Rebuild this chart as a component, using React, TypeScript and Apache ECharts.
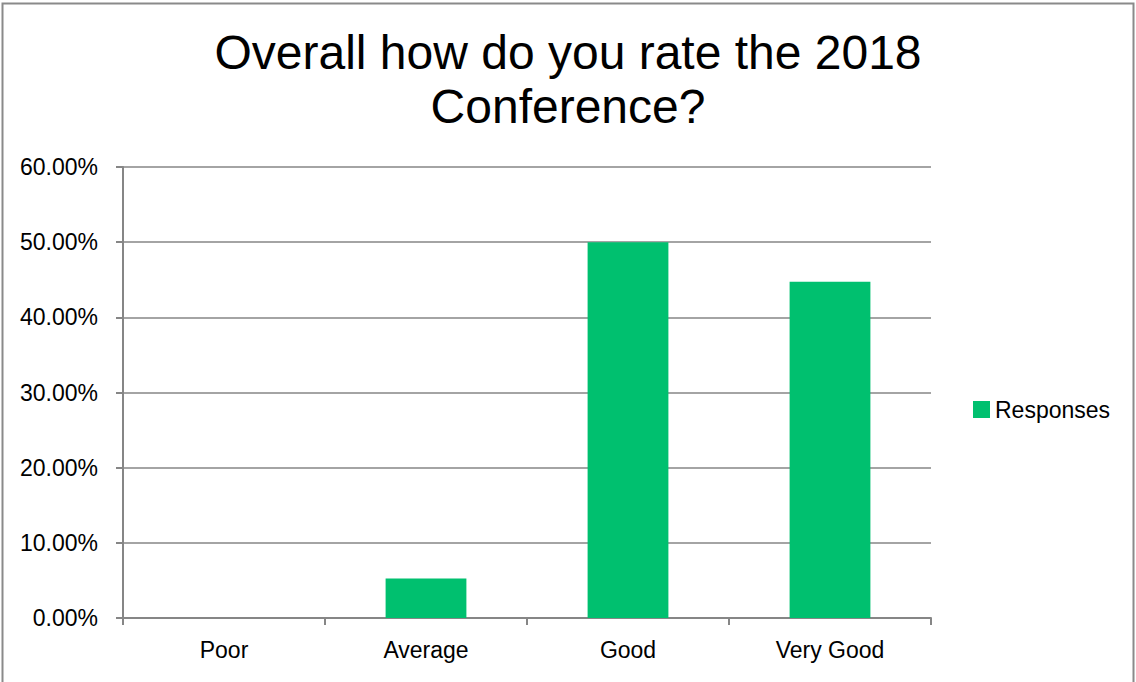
import React, { useEffect, useRef } from "react";
import * as echarts from "echarts";

const categories = ["Poor", "Average", "Good", "Very Good"];
const responses = [0, 0.0526, 0.5, 0.4474];
const seriesName = "Responses";
const titleText = "Overall how do you rate the 2018\nConference?";

export default function App() {
  const ref = useRef<HTMLDivElement>(null);
  useEffect(() => {
    const chart = echarts.init(ref.current!, null, { renderer: "svg" });
    const font = "Liberation Sans, Arial, sans-serif";
    chart.setOption({
      animation: false,
      backgroundColor: "#fff",
      title: {
        text: titleText,
        left: "center",
        top: 20,
        textStyle: { fontFamily: font, fontSize: 48, fontWeight: "normal", color: "#000", lineHeight: 54 },
      },
      graphic: [
        {
          type: "rect",
          shape: { x: 2.5, y: 3.5, width: 1131, height: 690 },
          style: { fill: "none", stroke: "#8a8a8a", lineWidth: 2 },
          silent: true,
        },
      ],
      legend: {
        orient: "vertical",
        left: 968,
        top: 393,
        itemWidth: 17,
        itemHeight: 17,
        itemGap: 5,
        icon: "rect",
        data: [seriesName],
        textStyle: { fontFamily: font, fontSize: 23, color: "#000" },
      },
      grid: { left: 123, top: 167, right: 205, bottom: 64, containLabel: false },
      xAxis: {
        type: "category",
        data: categories,
        axisLine: { lineStyle: { color: "#868686", width: 2 } },
        axisTick: { show: true, length: 7, lineStyle: { color: "#868686", width: 2 } },
        axisLabel: { fontFamily: font, fontSize: 23, color: "#000", margin: 20 },
      },
      yAxis: {
        type: "value",
        min: 0,
        max: 0.6,
        interval: 0.1,
        axisLine: { show: true, lineStyle: { color: "#868686", width: 2 } },
        axisTick: { show: true, length: 7, lineStyle: { color: "#868686", width: 2 } },
        splitLine: { lineStyle: { color: "#868686", width: 1.5 } },
        axisLabel: {
          fontFamily: font,
          fontSize: 23,
          color: "#000",
          margin: 25,
          formatter: (v: number) => (v * 100).toFixed(2) + "%",
        },
      },
      series: [
        {
          name: seriesName,
          type: "bar",
          data: responses,
          barWidth: "40%",
          itemStyle: { color: "#00c06f" },
        },
      ],
    });
    return () => chart.dispose();
  }, []);
  return (
    <div
      ref={ref}
      style={{ position: "fixed", left: 0, top: 0, width: 1136, height: 682 }}
    />
  );
}
